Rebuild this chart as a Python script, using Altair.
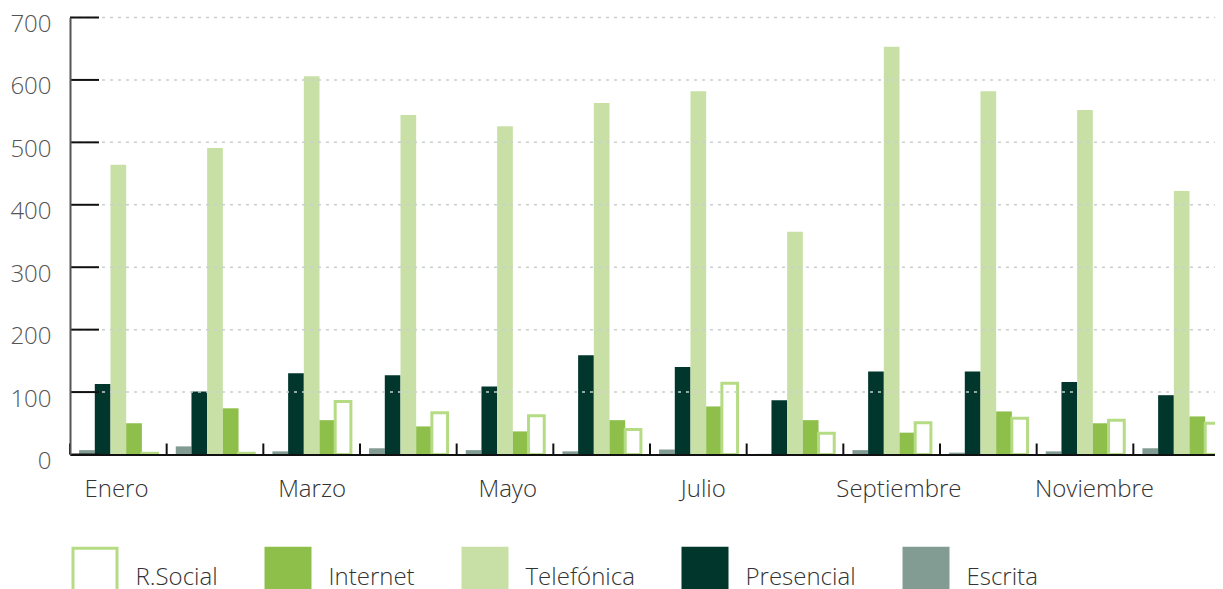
import altair as alt
import pandas as pd

months = ["Enero", "Febrero", "Marzo", "Abril", "Mayo", "Junio", "Julio",
          "Agosto", "Septiembre", "Octubre", "Noviembre", "Diciembre"]
month_labels = ["Enero", "Marzo", "Mayo", "Julio", "Septiembre", "Noviembre"]

escrita = [7, 13, 5, 10, 7, 5, 8, 1, 7, 3, 5, 10]
presencial = [113, 101, 130, 127, 109, 159, 140, 87, 133, 133, 116, 95]
telefonica = [464, 491, 606, 544, 526, 563, 582, 357, 653, 582, 552, 422]
internet = [50, 74, 55, 45, 37, 55, 77, 55, 35, 69, 50, 61]
rsocial = [2, 2, 85, 67, 62, 40, 114, 34, 51, 58, 55, 50]

series_order = ["Escrita", "Presencial", "Telefónica", "Internet", "R.Social"]
legend_order = ["R.Social", "Internet", "Telefónica", "Presencial", "Escrita"]
fill_colors = ["#ffffff", "#8dbf4a", "#c8e0a6", "#00362b", "#829c93"]
stroke_colors = ["#b5dc84", "#8dbf4a", "#c8e0a6", "#00362b", "#829c93"]
y_ticks = [0, 100, 200, 300, 400, 500, 600, 700]

rows = []
for name, vals in [("Escrita", escrita), ("Presencial", presencial),
                   ("Telefónica", telefonica), ("Internet", internet),
                   ("R.Social", rsocial)]:
    for m, v in zip(months, vals):
        rows.append({"mes": m, "serie": name, "valor": v})
df = pd.DataFrame(rows)
tick_df = pd.DataFrame({"valor": y_ticks})
month_df = pd.DataFrame({"mes": months})
label_df = pd.DataFrame({"mes": month_labels})

W, H = 1160, 437
FONT = "Open Sans"

xscale = alt.Scale(domain=months, paddingInner=0, paddingOuter=0)
# month labels in the original sit on a slightly wider spacing than the bar groups
label_scale = alt.Scale(domain=months, range=[-2.4, 1171.2], paddingInner=0, paddingOuter=0)
yscale = alt.Scale(domain=[0, 700], nice=False)

xaxis = alt.Axis(title=None, labels=False, ticks=False,
                 domainColor="#111111", domainWidth=2, grid=False, zindex=1)
yaxis = alt.Axis(values=y_ticks, title=None, ticks=False,
                 domainColor="#555555", domainWidth=2, grid=False,
                 labelFont=FONT, labelFontSize=24, labelFontWeight=300,
                 labelColor="#555555", labelPadding=19, labelOffset=7,
                 zindex=1)

leg = alt.Legend(
    title=None, orient="none", legendX=1.5, legendY=524.5, direction="horizontal",
    symbolType="M-1,-0.8H1V1.3H-1Z", symbolSize=1936, symbolStrokeWidth=3,
    labelFont=FONT, labelFontSize=24, labelFontWeight=300, labelColor="#333333",
    labelOffset=17, columnPadding=41, padding=0, labelBaseline="top",
)

bars = alt.Chart(df).mark_bar().encode(
    x=alt.X("mes:N", scale=xscale, sort=months, axis=xaxis),
    xOffset=alt.XOffset("serie:N", sort=series_order,
                        scale=alt.Scale(domain=series_order, paddingInner=0, paddingOuter=0.58)),
    y=alt.Y("valor:Q", scale=yscale, axis=yaxis),
    fill=alt.Fill("serie:N", scale=alt.Scale(domain=legend_order, range=fill_colors), legend=leg),
    stroke=alt.Stroke("serie:N", scale=alt.Scale(domain=legend_order, range=stroke_colors), legend=leg),
    strokeWidth=alt.condition(alt.datum.serie == "R.Social", alt.value(3), alt.value(0)),
)

grid = alt.Chart(tick_df).transform_filter(alt.datum.valor > 0).mark_rule(
    color="#c9cfcb", strokeWidth=1.5, strokeDash=[3, 5]
).encode(
    y=alt.Y("valor:Q", scale=yscale, axis=yaxis),
    x=alt.value(0), x2=alt.value(W + 20),
)

ytick = alt.Chart(tick_df).mark_rule(color="#111111", strokeWidth=2).encode(
    y=alt.Y("valor:Q", scale=yscale, axis=yaxis),
    x=alt.value(0), x2=alt.value(29),
)

xtick = alt.Chart(month_df).mark_rule(color="#111111", strokeWidth=2).encode(
    x=alt.X("mes:N", scale=xscale, sort=months, bandPosition=0, axis=None),
    y=alt.value(H - 11), y2=alt.value(H),
)

month_text = alt.Chart(label_df).mark_text(
    font=FONT, fontSize=24, fontWeight=300, color="#333333",
    align="center", baseline="alphabetic",
).encode(
    x=alt.X("mes:N", scale=label_scale, sort=months, axis=None),
    y=alt.value(H + 42),
    text="mes:N",
)

chart = alt.layer(bars, grid, ytick, xtick, month_text).resolve_scale(
    x="independent"
).properties(
    width=W, height=H,
    padding={"left": 62, "top": 9.5, "right": -15, "bottom": 140},
    autosize=alt.AutoSizeParams(type="none"),
).configure_view(stroke=None)

chart.save("out.html", embed_options={"renderer": "svg", "actions": False})
